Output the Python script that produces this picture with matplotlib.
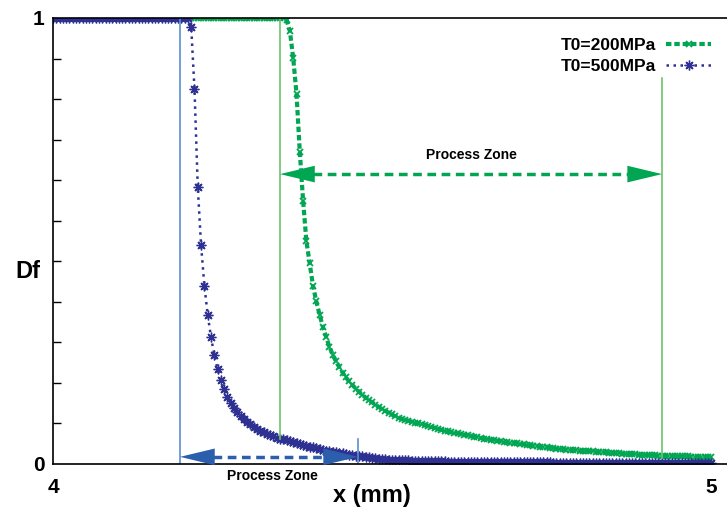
import numpy as np
import matplotlib
matplotlib.use('Agg')
import matplotlib.pyplot as plt

plt.rcParams['font.family'] = 'Liberation Sans'
plt.rcParams['font.weight'] = 'bold'

# sampling positions along x (mm), step 0.005
x = np.round(np.arange(201) * 0.005 + 4.0, 3)

# T0 = 200 MPa
df_200 = [1.0] * 70 + [
    1.0, 0.995, 0.97, 0.91, 0.83, 0.70, 0.59, 0.50, 0.45, 0.40,
    0.365, 0.335, 0.308, 0.285, 0.263, 0.245, 0.230, 0.217, 0.205, 0.194,
    0.185, 0.177, 0.169, 0.162, 0.155, 0.149, 0.143, 0.138, 0.133, 0.128,
    0.123, 0.119, 0.115, 0.111, 0.107, 0.104, 0.101, 0.099, 0.097, 0.095,
    0.093, 0.091, 0.089, 0.087, 0.085, 0.083, 0.081, 0.079, 0.077, 0.075,
    0.073, 0.0715, 0.070, 0.0685, 0.067, 0.0655, 0.064, 0.0625, 0.061, 0.0595,
    0.058, 0.057, 0.056, 0.0545, 0.053, 0.052, 0.051, 0.050, 0.049, 0.048,
    0.047, 0.046, 0.045, 0.044, 0.043, 0.042, 0.041, 0.040, 0.039, 0.038,
    0.037, 0.036, 0.035, 0.0345, 0.034, 0.033, 0.032, 0.0315, 0.031, 0.0305,
    0.030, 0.0295, 0.029, 0.0285, 0.028, 0.0275, 0.027, 0.0265, 0.026, 0.0255,
    0.025, 0.0245, 0.024, 0.0235, 0.023, 0.0225, 0.022, 0.0215, 0.021, 0.021,
    0.0205, 0.020, 0.020, 0.0195, 0.019, 0.019, 0.0185, 0.018, 0.018, 0.0175,
    0.0175, 0.017, 0.017, 0.0168, 0.0165, 0.0163, 0.016, 0.016, 0.0158, 0.0156,
    0.0155]

# T0 = 500 MPa
df_500 = [1.0] * 41 + [
    1.0, 0.98, 0.84, 0.62, 0.49, 0.40, 0.335, 0.285, 0.245, 0.213,
    0.188, 0.168, 0.150, 0.136, 0.125, 0.116, 0.108, 0.101, 0.095, 0.089,
    0.084, 0.079, 0.075, 0.071, 0.068, 0.065, 0.062, 0.059, 0.057, 0.055,
    0.053, 0.051, 0.049, 0.047, 0.045, 0.043, 0.041, 0.039, 0.037, 0.035,
    0.033, 0.031, 0.030, 0.029, 0.027, 0.026, 0.025, 0.024, 0.023, 0.021,
    0.020, 0.019, 0.018, 0.017, 0.016, 0.015, 0.014, 0.013, 0.012, 0.011,
    0.011, 0.010, 0.010, 0.009, 0.009, 0.0085, 0.008, 0.008, 0.0075, 0.007,
    0.007, 0.0068, 0.0066, 0.0064, 0.0062, 0.006, 0.0059, 0.0058, 0.0056, 0.0055,
    0.0054, 0.0053, 0.0052, 0.0051, 0.005, 0.0049, 0.0048, 0.0047, 0.0046, 0.0045,
    0.0045, 0.0044, 0.0043, 0.0043, 0.0042, 0.0041, 0.0041, 0.004, 0.004, 0.0039,
    0.0039, 0.0038, 0.0038, 0.0037, 0.0037, 0.0036, 0.0036, 0.0035, 0.0035, 0.0034,
    0.0034, 0.0033, 0.0033, 0.0032, 0.0032, 0.0031, 0.0031, 0.003, 0.003, 0.003,
    0.0029, 0.0029, 0.0028, 0.0028, 0.0028, 0.0027, 0.0027, 0.0026, 0.0026, 0.0026,
    0.0025, 0.0025, 0.0025, 0.0024, 0.0024, 0.0024, 0.0023, 0.0023, 0.0023, 0.0022,
    0.0022, 0.0022, 0.0021, 0.0021, 0.0021, 0.0021, 0.002, 0.002, 0.002, 0.002,
    0.002, 0.0019, 0.0019, 0.0019, 0.0018, 0.0018, 0.0018, 0.0018, 0.0017, 0.0017]

labels = ['T0=200MPa', 'T0=500MPa']

# process zone markers (x in mm, y in Df)
pz_200 = (4.345, 4.9255)
pz_500 = (4.193, 4.4635)
pz_200_y = 0.65
pz_500_y = 0.016

green = '#00a651'
blue = '#2e3192'
green_line = '#6cc46c'
blue_line = '#5b8fd0'
blue_arrow = '#2b5fad'

fig = plt.figure(figsize=(7.27, 5.14), dpi=100)
ax = fig.add_axes([0.0729, 0.0973, 0.927, 0.8677])

ax.plot(x, df_200, color=green, lw=3, dashes=(1.3, 0.7), marker='x',
        ms=5, mew=1.3, label=labels[0])
ax.plot(x, df_500, color=blue, lw=1.8, dashes=(1, 1.8), marker=(8, 2, 0),
        ms=7, mew=1.0, label=labels[1])

# vertical boundaries of the process zones
ax.plot([pz_500[0], pz_500[0]], [0, 1], color=blue_line, lw=1.2)
ax.plot([pz_500[1], pz_500[1]], [0, 0.055], color=blue_line, lw=1.2)
ax.plot([pz_200[0], pz_200[0]], [0.055, 1], color=green_line, lw=1.2)
ax.plot([pz_200[1], pz_200[1]], [0.013, 0.865], color=green_line, lw=1.2)

# double arrows
for (x1, x2), yy, c in [(pz_200, pz_200_y, green), (pz_500, pz_500_y, blue_arrow)]:
    ax.plot([x1 + 0.05, x2 - 0.05], [yy, yy], color=c, lw=2.5, dashes=(2.5, 1.6))
    ax.annotate('', xy=(x2, yy), xytext=(x1, yy),
                arrowprops=dict(arrowstyle='<|-|>,head_length=1.25,head_width=0.3',
                                mutation_scale=20, lw=0, color=c,
                                shrinkA=0, shrinkB=0))

ax.text(np.mean(pz_200), pz_200_y + 0.043, 'Process Zone', ha='center',
        va='center', fontsize=10)
ax.text(np.mean(pz_500) + 0.005, -0.028, 'Process Zone', ha='center',
        va='center', fontsize=10, clip_on=False)

ax.set_xlim(4, 5.024)
ax.set_ylim(0, 1)
ax.set_xticks([4, 5])
ax.set_xticklabels(['4', '5'])
ax.tick_params(axis='x', length=0, labelsize=15, pad=10)
ax.set_yticks([0, 1])
ax.set_yticks(np.arange(1, 11) / 11, minor=True)
ax.tick_params(axis='y', which='major', length=0, labelsize=15, pad=6)
ax.tick_params(axis='y', which='minor', direction='in', length=6, width=1)
for lab in ax.get_xticklabels() + ax.get_yticklabels():
    lab.set_fontweight('bold')

ax.spines['right'].set_visible(False)
for s in ['left', 'bottom', 'top']:
    ax.spines[s].set_linewidth(1.2)

ax.set_xlabel('x (mm)', fontsize=17, fontweight='bold', va='center')
ax.xaxis.set_label_coords(0.473, -0.07)
ax.set_ylabel('Df', fontsize=17, fontweight='bold', rotation=0, va='center',
              ha='center')
ax.yaxis.set_label_coords(-0.037, 0.432)

leg = ax.legend(loc='upper right', bbox_to_anchor=(1.0, 0.99), frameon=False,
                markerfirst=False, handlelength=2.6, fontsize=12.5,
                labelspacing=0.3, handletextpad=0.6)
for t in leg.get_texts():
    t.set_fontweight('bold')

fig.savefig('out.png', dpi=100)
